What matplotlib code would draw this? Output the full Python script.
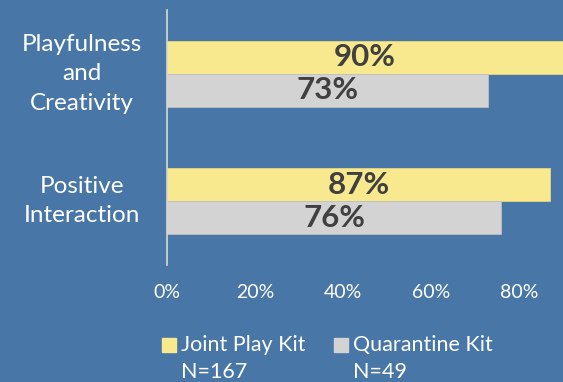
import matplotlib.pyplot as plt
import matplotlib.transforms as mtransforms
from matplotlib.patches import Rectangle

plt.rcParams['font.family'] = ['Lato', 'DejaVu Sans']

categories = ['Playfulness\nand\nCreativity', 'Positive\nInteraction']
joint_play = [0.90, 0.87]
quarantine = [0.73, 0.76]
series_names = ['Joint Play Kit\nN=167', 'Quarantine Kit\nN=49']
xticks = [0, 0.2, 0.4, 0.6, 0.8]
xtick_labels = ['0%', '20%', '40%', '60%', '80%']

bg = '#4876A7'
yellow = '#F9E98E'
grey = '#D3D3D3'
dark = '#404040'

fig = plt.figure(figsize=(5.63, 3.82), dpi=100, facecolor=bg)
ax = fig.add_axes([167 / 563, 117 / 382, 396 / 563, 255 / 382])
ax.set_facecolor(bg)

h = 0.26
ypos = list(range(len(categories)))
ax.barh([y - h / 2 for y in ypos], joint_play, height=h, color=yellow,
        edgecolor='#E6D67C', linewidth=0.6)
ax.barh([y + h / 2 for y in ypos], quarantine, height=h, color=grey,
        edgecolor='#BFBFBF', linewidth=0.6)

for y, v in zip(ypos, joint_play):
    ax.text(v / 2, y - h / 2, f'{v:.0%}', ha='center', va='center',
            fontsize=22.5, fontweight='bold', color=dark)
for y, v in zip(ypos, quarantine):
    ax.text(v / 2, y + h / 2, f'{v:.0%}', ha='center', va='center',
            fontsize=22.5, fontweight='bold', color=dark)

trans = mtransforms.blended_transform_factory(ax.transAxes, ax.transData)
for y, lab in zip(ypos, categories):
    ax.text(-0.215, y, lab, transform=trans, ha='center', va='center',
            fontsize=17.5, color='white', linespacing=1.5)

ax.set_xlim(0, 0.9)
ax.set_ylim(len(categories) - 0.5, -0.5)
ax.set_yticks([])
ax.set_xticks(xticks)
ax.set_xticklabels(xtick_labels, color='white', fontsize=14)
ax.tick_params(axis='x', length=0, pad=14)
for s in ['top', 'right', 'bottom']:
    ax.spines[s].set_visible(False)
ax.spines['left'].set_color('#D9D9D9')
ax.spines['left'].set_linewidth(1.2)

# legend drawn by hand so the swatch sits on the first line
leg_x = [162, 334]
for x, name, col in zip(leg_x, series_names, [yellow, grey]):
    fig.patches.append(Rectangle((x / 563, 1 - 352 / 382), 14 / 563, 14 / 382,
                                 transform=fig.transFigure, color=col))
    first, second = name.split('\n')
    fig.text((x + 19) / 563, 1 - 345 / 382, first, ha='left', va='center',
             fontsize=15.5, color='white')
    fig.text((x + 19) / 563, 1 - 372 / 382, second, ha='left', va='center',
             fontsize=15.5, color='white')

fig.savefig('out.png', dpi=100, facecolor=bg)
